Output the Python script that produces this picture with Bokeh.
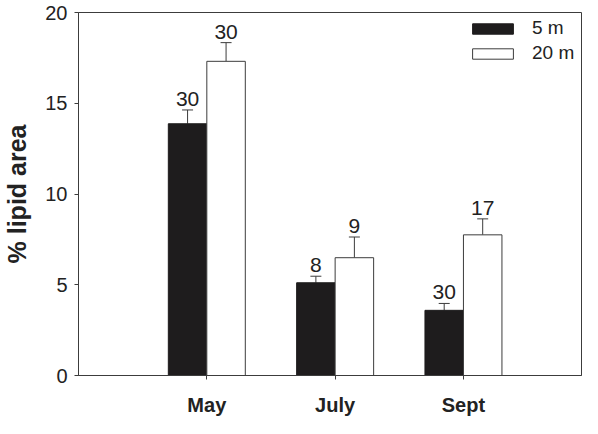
import numpy as np
from bokeh.plotting import figure
from bokeh.models import (ColumnDataSource, Whisker, TeeHead, FixedTicker, Range1d,
                          Legend, LegendItem)
from bokeh.core.properties import value
from bokeh.embed import file_html
from bokeh.resources import INLINE

months = ["May", "July", "Sept"]
depths = ["5 m", "20 m"]
mean_5m = [13.87, 5.11, 3.59]
err_5m = [0.76, 0.36, 0.38]
n_5m = ["30", "8", "30"]
mean_20m = [17.31, 6.49, 7.75]
err_20m = [1.03, 1.14, 0.88]
n_20m = ["30", "9", "17"]
y_ticks = [0, 5, 10, 15, 20]

FONT = "Liberation Sans"
AX = "#3c3c3c"
DARK = "#1e1c1d"
TXT = "#222222"

pos = np.arange(1, len(months) + 1)
bw = 0.3

p = figure(width=582, height=418, output_backend="svg", toolbar_location=None,
           x_range=Range1d(0, len(months) + 0.92), y_range=Range1d(0, 20),
           min_border_left=75, min_border_right=1, min_border_top=12, min_border_bottom=42)
p.grid.visible = False
p.background_fill_color = "white"
p.border_fill_color = "white"
p.outline_line_color = AX
p.outline_line_width = 1

def series(means, errs, counts, shift):
    return ColumnDataSource(dict(
        x=pos + shift,
        top=means,
        upper=[m + e for m, e in zip(means, errs)],
        n=counts,
    ))

s5 = series(mean_5m, err_5m, n_5m, -bw / 2)
s20 = series(mean_20m, err_20m, n_20m, bw / 2)

r5 = p.vbar(x="x", top="top", width=bw, source=s5, fill_color=DARK, line_color=DARK, line_width=1)
r20 = p.vbar(x="x", top="top", width=bw, source=s20, fill_color="white", line_color=AX, line_width=1)

for s in (s5, s20):
    w = Whisker(base="x", upper="upper", lower="top", source=s, dimension="height",
                line_color=AX, line_width=1,
                upper_head=TeeHead(size=11, line_color=AX, line_width=1), lower_head=None)
    p.add_layout(w)
    p.text(x="x", y="upper", text="n", source=s, text_align="center",
           text_baseline="alphabetic", y_offset=-11, text_font_size=value("21px"),
           text_font=value(FONT), text_color=TXT)

# axes
p.xaxis.ticker = FixedTicker(ticks=list(pos))
p.xaxis.major_label_overrides = {int(k): m for k, m in zip(pos, months)}
p.xaxis.major_label_text_font = FONT
p.xaxis.major_label_text_font_style = "bold"
p.xaxis.major_label_text_font_size = "20px"
p.xaxis.major_label_text_color = TXT
p.xaxis.major_label_standoff = 14
p.xaxis.minor_tick_line_color = None
p.xaxis.major_tick_in = 0
p.xaxis.major_tick_out = 4

p.yaxis.ticker = FixedTicker(ticks=y_ticks)
p.yaxis.major_label_text_font = FONT
p.yaxis.major_label_text_font_size = "20px"
p.yaxis.major_label_text_color = TXT
p.yaxis.major_label_standoff = 7
p.yaxis.minor_tick_line_color = None
p.yaxis.major_tick_in = 0
p.yaxis.major_tick_out = 4
p.yaxis.axis_label = "% lipid area"
p.yaxis.axis_label_text_font = FONT
p.yaxis.axis_label_text_font_style = "bold"
p.yaxis.axis_label_text_font_size = "25px"
p.yaxis.axis_label_text_color = TXT
p.yaxis.axis_label_standoff = 11

for ax in (p.xaxis, p.yaxis):
    ax.axis_line_color = AX
    ax.major_tick_line_color = AX

legend = Legend(items=[LegendItem(label=depths[0], renderers=[r5]),
                       LegendItem(label=depths[1], renderers=[r20])],
                location=(389, 311), padding=0, margin=0, spacing=3,
                glyph_width=51, glyph_height=13, label_standoff=14,
                label_text_font=FONT, label_text_font_size="19px",
                label_text_color=TXT,
                border_line_color=None, background_fill_alpha=0)
p.add_layout(legend, "center")

open("out.html", "w").write(file_html(p, INLINE))
